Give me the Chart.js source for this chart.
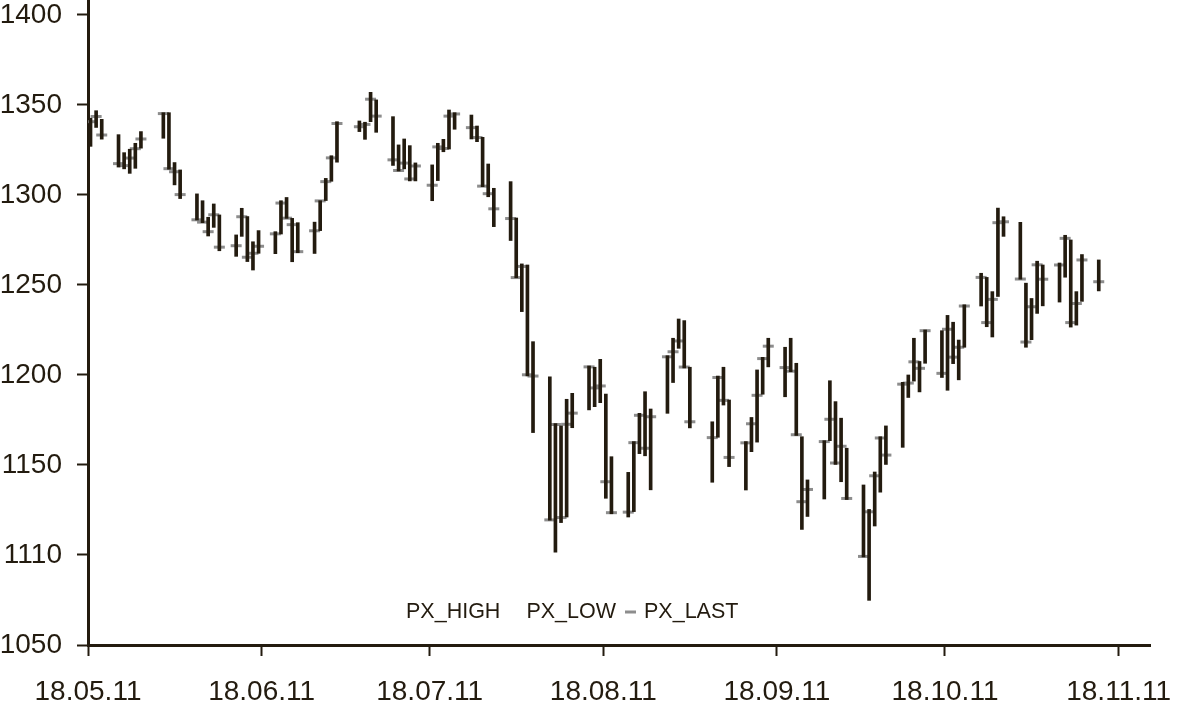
<!DOCTYPE html>
<html>
<head>
<meta charset="utf-8">
<script src="https://cdn.jsdelivr.net/npm/chart.js@4.4.1/dist/chart.umd.min.js"></script>
<style>
  body { margin: 0; background: #fff; }
  #wrap { width: 1178px; height: 706px; position: relative; }
</style>
</head>
<body>
<div id="wrap"><canvas id="canva1"></canvas></div>
<script>
// trading days and prices
const dates = [
  '2011-05-18','2011-05-19','2011-05-20','2011-05-23','2011-05-24','2011-05-25','2011-05-26','2011-05-27','2011-05-31',
  '2011-06-01','2011-06-02','2011-06-03','2011-06-06','2011-06-07','2011-06-08','2011-06-09','2011-06-10',
  '2011-06-13','2011-06-14','2011-06-15','2011-06-16','2011-06-17','2011-06-20','2011-06-21','2011-06-22',
  '2011-06-23','2011-06-24','2011-06-27','2011-06-28','2011-06-29','2011-06-30',
  '2011-07-01','2011-07-05','2011-07-06','2011-07-07','2011-07-08','2011-07-11','2011-07-12','2011-07-13',
  '2011-07-14','2011-07-15','2011-07-18','2011-07-19','2011-07-20','2011-07-21','2011-07-22','2011-07-25',
  '2011-07-26','2011-07-27','2011-07-28','2011-07-29',
  '2011-08-01','2011-08-02','2011-08-03','2011-08-04','2011-08-05','2011-08-08','2011-08-09','2011-08-10',
  '2011-08-11','2011-08-12','2011-08-15','2011-08-16','2011-08-17','2011-08-18','2011-08-19','2011-08-22',
  '2011-08-23','2011-08-24','2011-08-25','2011-08-26','2011-08-29','2011-08-30','2011-08-31',
  '2011-09-01','2011-09-02','2011-09-06','2011-09-07','2011-09-08','2011-09-09','2011-09-12','2011-09-13',
  '2011-09-14','2011-09-15','2011-09-16','2011-09-19','2011-09-20','2011-09-21','2011-09-22','2011-09-23',
  '2011-09-26','2011-09-27','2011-09-28','2011-09-29','2011-09-30',
  '2011-10-03','2011-10-04','2011-10-05','2011-10-06','2011-10-07','2011-10-10','2011-10-11','2011-10-12',
  '2011-10-13','2011-10-14','2011-10-17','2011-10-18','2011-10-19','2011-10-20','2011-10-21','2011-10-24',
  '2011-10-25','2011-10-26','2011-10-27','2011-10-28','2011-10-31',
  '2011-11-01','2011-11-02','2011-11-03','2011-11-04','2011-11-07','2011-11-08','2011-11-09','2011-11-10',
  '2011-11-11','2011-11-14'
];
const pxHigh = [
  1342.6,1346.8,1342.0,1333.5,1323.5,1325.4,1328.7,1335.2,1345.7,
  1345.7,1318.0,1313.9,1300.6,1296.8,1287.6,1295.0,1288.9,
  1277.8,1292.6,1288.0,1274.0,1280.2,1279.6,1296.8,1298.6,
  1287.0,1284.6,1284.9,1296.8,1309.2,1321.8,
  1340.7,1341.1,1340.4,1357.0,1352.8,1343.5,1327.8,1331.1,
  1327.4,1317.8,1316.7,1328.7,1330.9,1347.2,1345.7,1344.4,
  1338.3,1332.0,1317.2,1303.7,
  1307.4,1287.2,1261.7,1261.1,1218.5,1199.0,1173.0,1171.7,
  1186.5,1189.8,1205.0,1204.3,1208.7,1189.4,1154.6,1145.9,
  1163.0,1178.7,1190.7,1181.1,1210.7,1220.4,1231.1,
  1230.2,1204.3,1174.0,1199.4,1204.3,1186.1,1163.0,1176.4,
  1202.8,1209.8,1220.4,1215.4,1220.4,1206.5,1165.7,1141.7,
  1163.5,1196.8,1185.2,1176.0,1159.3,
  1138.9,1125.3,1146.1,1165.7,1171.7,1195.9,1200.0,1220.4,
  1207.5,1225.0,1224.6,1233.1,1229.3,1219.4,1239.0,1256.5,
  1254.2,1246.3,1292.7,1287.9,1284.8,
  1251.0,1242.5,1263.2,1261.1,1262.2,1277.6,1275.0,1246.3,
  1266.9,1263.9
];
const pxLow = [
  1327.0,1337.5,1331.0,1315.5,1314.5,1312.0,1314.8,1326.0,1331.5,
  1314.3,1305.6,1298.0,1286.1,1284.6,1277.2,1282.0,1269.0,
  1265.9,1277.0,1263.0,1258.3,1267.6,1267.4,1278.3,1287.0,
  1262.9,1267.9,1267.5,1280.2,1296.9,1307.6,
  1318.2,1335.2,1330.9,1340.7,1334.8,1316.4,1313.3,1314.5,
  1307.8,1307.8,1296.8,1308.0,1324.0,1325.5,1336.5,1331.1,
  1329.6,1304.6,1299.0,1282.4,
  1274.7,1254.0,1235.2,1199.5,1168.0,1119.3,1101.5,1118.0,
  1121.1,1170.7,1180.6,1182.4,1184.6,1131.5,1122.9,1121.1,
  1124.1,1156.3,1155.1,1136.2,1178.7,1195.8,1214.8,
  1203.9,1170.6,1140.4,1165.4,1183.3,1149.1,1136.1,1157.4,
  1162.7,1189.3,1204.5,1187.9,1201.8,1166.4,1114.2,1121.4,
  1131.1,1163.5,1150.3,1140.7,1130.8,
  1098.9,1074.8,1116.1,1134.9,1150.3,1159.8,1187.5,1196.6,
  1190.6,1206.5,1198.6,1191.5,1206.3,1197.3,1215.4,1238.3,
  1226.8,1221.1,1243.6,1277.0,1253.2,
  1215.4,1219.6,1234.2,1238.4,1240.5,1254.3,1226.6,1227.7,
  1240.9,1246.7
];
const pxLast = [
  1340.7,1343.6,1333.3,1317.4,1316.3,1320.5,1325.7,1331.1,1345.2,
  1314.6,1312.9,1300.2,1286.2,1284.9,1279.6,1289.0,1271.0,
  1271.8,1287.9,1265.4,1267.6,1271.5,1278.4,1295.5,1287.1,
  1283.5,1268.5,1280.1,1296.7,1307.4,1320.6,
  1339.7,1337.9,1339.2,1353.2,1343.8,1319.5,1313.6,1317.7,
  1308.9,1316.1,1305.4,1326.7,1325.8,1343.8,1345.0,1337.4,
  1331.9,1304.9,1300.7,1292.3,
  1286.9,1254.1,1260.3,1200.1,1199.4,1119.5,1172.5,1120.8,
  1172.6,1178.8,1204.5,1192.8,1193.9,1140.7,1123.5,1123.8,
  1162.4,1177.6,1159.3,1176.8,1210.1,1212.9,1218.9,
  1204.4,1174.0,1165.2,1198.6,1185.9,1154.2,1162.3,1172.9,
  1188.7,1209.1,1216.0,1204.1,1202.1,1166.8,1129.6,1136.4,
  1163.0,1175.4,1151.1,1160.4,1131.4,
  1099.2,1124.0,1144.0,1165.0,1155.5,1194.9,1195.5,1207.3,
  1203.7,1224.6,1200.9,1225.4,1209.9,1215.4,1238.3,1254.2,
  1229.1,1242.0,1284.6,1285.1,1253.3,
  1218.3,1237.9,1261.2,1253.2,1261.1,1275.9,1229.1,1239.7,
  1263.9,1251.8
];
const xTickDates = ['2011-05-18','2011-06-18','2011-07-18','2011-08-18','2011-09-18','2011-10-18','2011-11-18'];
const xTickLabels = ['18.05.11','18.06.11','18.07.11','18.08.11','18.09.11','18.10.11','18.11.11'];
const yTicks = [1050, 1100, 1150, 1200, 1250, 1300, 1350, 1400];
const yTickLabels = ['1050', '1110', '1150', '1200', '1250', '1300', '1350', '1400'];
const legendLabels = ['PX_HIGH', 'PX_LOW', 'PX_LAST'];

const ink = '#231b0f';
const markGrey = '#8d8d8d';
const sans = "'Liberation Sans', Arial, sans-serif";

function dayOf(s) {
  return (Date.parse(s) - Date.parse('2011-05-18')) / 86400000;
}
// each day owns a one-day slot, the bar sits in its middle
const barData = dates.map((d, i) => ({ x: dayOf(d) + 0.45, y: [pxLow[i], pxHigh[i]] }));
const lastData = dates.map((d, i) => ({ x: dayOf(d) + 0.45, y: pxLast[i] }));

// legend sits inside the plot, just above the x axis
const legendInside = {
  id: 'legendInside',
  afterDraw(chart) {
    const ctx = chart.ctx;
    ctx.save();
    ctx.font = '21.5px ' + sans;
    ctx.fillStyle = ink;
    ctx.textBaseline = 'middle';
    let x = 406;
    const y = 612;
    ctx.fillText(legendLabels[0], x, y);
    x += ctx.measureText(legendLabels[0]).width + 26;
    ctx.fillText(legendLabels[1], x, y);
    x += ctx.measureText(legendLabels[1]).width + 9;
    ctx.strokeStyle = markGrey;
    ctx.lineWidth = 3;
    ctx.beginPath();
    ctx.moveTo(x, y);
    ctx.lineTo(x + 11, y);
    ctx.stroke();
    x += 19;
    ctx.fillText(legendLabels[2], x, y);
    ctx.restore();
  }
};

let canva1 = document.getElementById('canva1');
let grafico1 = new Chart(canva1, {
  data: {
    datasets: [{
      type: 'bar',
      label: 'PX_HIGH / PX_LOW',
      data: barData,
      backgroundColor: ink,
      borderWidth: 0,
      barThickness: 3,
      order: 0
    }, {
      type: 'scatter',
      label: legendLabels[2],
      data: lastData,
      pointStyle: 'line',
      pointRadius: 5.5,
      borderColor: markGrey,
      backgroundColor: markGrey,
      pointBorderWidth: 3,
      order: 1
    }]
  },
  options: {
    responsive: true,
    maintainAspectRatio: false,
    animation: false,
    layout: { autoPadding: false, padding: { left: 0, right: 28, top: 0, bottom: 0 } },
    plugins: {
      legend: { display: false },
      tooltip: { enabled: false }
    },
    scales: {
      x: {
        type: 'linear',
        min: 0,
        max: 189.6,
        offset: false,
        border: { display: true, color: ink, width: 3 },
        grid: { display: true, offset: false, drawOnChartArea: false, drawTicks: true, tickLength: 11, tickWidth: 2, tickColor: ink },
        ticks: {
          color: ink,
          font: { family: sans, size: 28 },
          padding: 19,
          maxRotation: 0,
          autoSkip: false,
          callback: (v, i) => xTickLabels[i]
        },
        afterBuildTicks: (scale) => { scale.ticks = xTickDates.map(d => ({ value: dayOf(d) })); },
        afterFit: (scale) => { scale.height = 61; scale.paddingLeft = 0; scale.paddingRight = 0; }
      },
      y: {
        min: 1050,
        max: 1408.3,
        border: { display: true, color: ink, width: 3 },
        grid: { display: true, drawOnChartArea: false, drawTicks: true, tickLength: 11, tickWidth: 2, tickColor: ink },
        ticks: {
          color: ink,
          font: { family: sans, size: 28 },
          padding: 15,
          callback: (v) => yTickLabels[yTicks.indexOf(v)]
        },
        afterBuildTicks: (scale) => { scale.ticks = yTicks.map(v => ({ value: v })); },
        afterFit: (scale) => { scale.width = 88; scale.paddingTop = 0; scale.paddingBottom = 0; }
      }
    }
  },
  plugins: [legendInside]
});
</script>
</body>
</html>
